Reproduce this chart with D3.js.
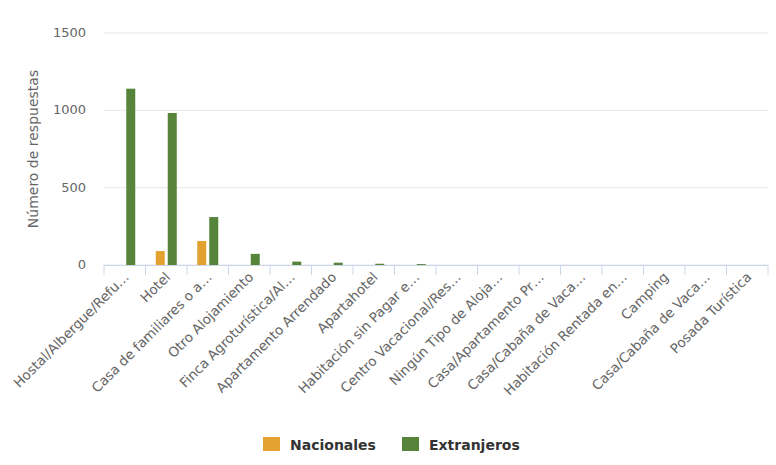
<!DOCTYPE html>
<html><head><meta charset="utf-8">
<script src="https://cdn.jsdelivr.net/npm/d3@7"></script>
<style>body{margin:0;font-family:"DejaVu Sans",sans-serif;background:#fff}</style>
</head><body>
<script>
var categories = ["Hostal/Albergue/Refu…","Hotel","Casa de familiares o a…","Otro Alojamiento","Finca Agroturística/Al…","Apartamento Arrendado","Apartahotel","Habitación sin Pagar e…","Centro Vacacional/Res…","Ningún Tipo de Aloja…","Casa/Apartamento Pr…","Casa/Cabaña de Vaca…","Habitación Rentada en…","Camping","Casa/Cabaña de Vaca…","Posada Turística"];
var nacionales = [0,90,155,0,0,0,0,0,0,0,0,0,0,0,0,0];
var extranjeros = [1140,983,310,72,22,15,8,6,0,0,0,0,0,0,0,0];
var yTicks = [0,500,1000,1500];

var svg = d3.select("body").append("svg").attr("width",776).attr("height",465);
var x = d3.scaleBand().domain(d3.range(categories.length)).range([104,768]);
var y = d3.scaleLinear().domain([0,1500]).range([265,33]);

svg.selectAll(".grid").data(yTicks).enter().append("line")
  .attr("x1",104).attr("x2",768).attr("y1",d=>y(d)).attr("y2",d=>y(d))
  .attr("stroke","#e6e6e6");
svg.selectAll(".yl").data(yTicks).enter().append("text")
  .attr("x",86).attr("y",d=>y(d)+4).attr("text-anchor","end")
  .attr("font-size",13).attr("fill","#666").text(d=>d);
svg.append("text").attr("transform","translate(38,149) rotate(-90)")
  .attr("text-anchor","middle").attr("font-size",14).attr("fill","#666").text("Número de respuestas");

var bw = 9;
var g = svg.append("g");
categories.forEach(function(c,i){
  var cx = x(i)+x.bandwidth()/2;
  if(nacionales[i]>0) g.append("rect").attr("x",cx-bw-1.5).attr("width",bw)
    .attr("y",y(nacionales[i])).attr("height",265-y(nacionales[i])).attr("fill","#e3a12f");
  if(extranjeros[i]>0) g.append("rect").attr("x",cx+1.5).attr("width",bw)
    .attr("y",y(extranjeros[i])).attr("height",265-y(extranjeros[i])).attr("fill","#56843a");
});

svg.append("line").attr("x1",104).attr("x2",768).attr("y1",265.5).attr("y2",265.5).attr("stroke","#ccd6eb");
var ticks = x.domain().map(i=>x(i)).concat([768]);
svg.selectAll(".tk").data(ticks).enter().append("line")
  .attr("x1",d=>d).attr("x2",d=>d).attr("y1",265).attr("y2",275).attr("stroke","#ccd6eb");
svg.selectAll(".xl").data(categories).enter().append("text")
  .attr("transform",(d,i)=>"translate("+(x(i)+x.bandwidth()/2+5)+",278) rotate(-45)")
  .attr("text-anchor","end").attr("font-size",13.5).attr("fill","#666").text(d=>d);

var legend = [["Nacionales","#e3a12f",263],["Extranjeros","#56843a",402]];
legend.forEach(function(l){
  svg.append("rect").attr("x",l[2]).attr("y",437).attr("width",17).attr("height",14).attr("fill",l[1]);
  svg.append("text").attr("x",l[2]+27).attr("y",450).attr("font-size",14).attr("font-weight","bold").attr("fill","#333").text(l[0]);
});
</script>
</body></html>
